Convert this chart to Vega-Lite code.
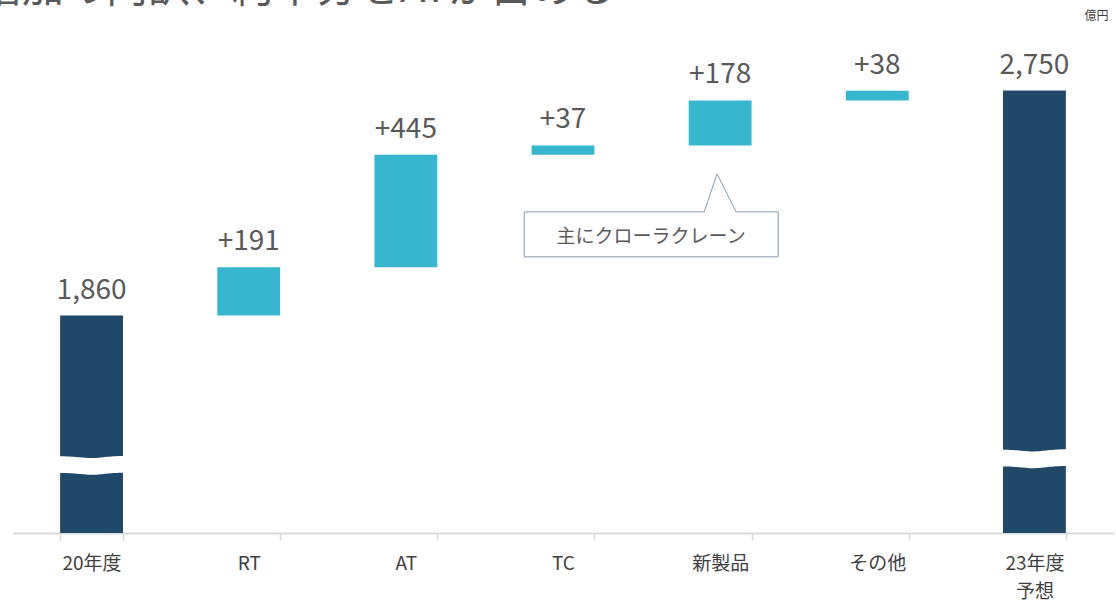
{
  "$schema": "https://vega.github.io/schema/vega-lite/v6.json",
  "width": 1100,
  "height": 533,
  "autosize": {"type": "none"},
  "padding": {"left": 13, "top": 0, "right": 3, "bottom": 68},
  "background": "white",
  "config": {"view": {"stroke": null}, "font": "Noto Sans CJK JP"},
  "title": {
    "text": "増加の内訳、約半分をATが占める",
    "anchor": "start",
    "frame": "group",
    "fontSize": 42,
    "fontWeight": "normal",
    "color": "#595959",
    "font": "Noto Sans CJK JP",
    "baseline": "alphabetic",
    "offset": 0,
    "dx": -33,
    "dy": 44
  },
  "datasets": {
    "bars": [
      {"cat": "20年度", "start": 1000, "end": 1860, "label": "1,860", "kind": "total"},
      {"cat": "RT", "start": 1860, "end": 2051, "label": "+191", "kind": "delta"},
      {"cat": "AT", "start": 2051, "end": 2496, "label": "+445", "kind": "delta"},
      {"cat": "TC", "start": 2496, "end": 2533, "label": "+37", "kind": "delta"},
      {"cat": "新製品", "start": 2533, "end": 2711, "label": "+178", "kind": "delta"},
      {"cat": "その他", "start": 2711, "end": 2749, "label": "+38", "kind": "delta"},
      {"cat": "23年度 予想", "start": 1000, "end": 2750, "label": "2,750", "kind": "total"}
    ],
    "breaks": [
      {"cat": "20年度", "v": 1269},
      {"cat": "23年度 予想", "v": 1295}
    ],
    "callout": [
      {"cat": "新製品", "v": 2183, "note": "主にクローラクレーン"}
    ],
    "unit": [
      {"cat": "23年度 予想", "v": 3045, "t": "億円"}
    ]
  },
  "encoding": {
    "x": {
      "field": "cat",
      "type": "nominal",
      "sort": null,
      "scale": {
        "domain": ["20年度", "RT", "AT", "TC", "新製品", "その他", "23年度 予想"],
        "paddingInner": 0.6,
        "paddingOuter": 0.3
      },
      "axis": {
        "title": null,
        "labelAngle": 0,
        "labelFontSize": 19,
        "labelColor": "#404040",
        "labelFont": "Noto Sans CJK JP",
        "labelExpr": "split(datum.label, ' ')",
        "labelLineHeight": 28,
        "labelPadding": 14,
        "tickBand": "extent",
        "tickSize": 7,
        "tickColor": "#d9d9d9",
        "tickWidth": 1.5,
        "domainColor": "#d9d9d9",
        "domainWidth": 2,
        "grid": false
      }
    }
  },
  "layer": [
    {
      "data": {"name": "bars"},
      "mark": {"type": "bar"},
      "encoding": {
        "y": {"field": "end", "type": "quantitative", "scale": {"domain": [1000, 3108], "nice": false, "zero": false}, "axis": null},
        "y2": {"field": "start"},
        "color": {"field": "kind", "type": "nominal", "scale": {"domain": ["total", "delta"], "range": ["#1f4869", "#38b6cf"]}, "legend": null}
      }
    },
    {
      "data": {"name": "bars"},
      "mark": {"type": "text", "baseline": "alphabetic", "dy": -17, "fontSize": 28, "color": "#595959", "font": "Noto Sans CJK JP"},
      "encoding": {
        "y": {"field": "end", "type": "quantitative"},
        "text": {"field": "label"}
      }
    },
    {
      "data": {"name": "breaks"},
      "mark": {
        "type": "point",
        "filled": true,
        "fill": "white",
        "opacity": 1,
        "strokeWidth": 0,
        "size": 4900,
        "shape": "M-1,-0.25 C-0.4,-0.25 -0.3,-0.2 0,-0.2 C0.3,-0.2 0.4,-0.26 1,-0.26 L1,0.22 C0.4,0.22 0.3,0.28 0,0.28 C-0.3,0.28 -0.4,0.23 -1,0.23 Z"
      },
      "encoding": {
        "y": {"field": "v", "type": "quantitative"}
      }
    },
    {
      "data": {"name": "callout"},
      "mark": {
        "type": "point",
        "filled": false,
        "fill": "white",
        "fillOpacity": 1,
        "stroke": "#8a9bb0",
        "strokeWidth": 1,
        "opacity": 1,
        "size": 65025,
        "shape": "M-1.537,-0.1725 L-0.125,-0.1725 L-0.024,-0.471 L0.125,-0.1725 L0.455,-0.1725 L0.455,0.18 L-1.537,0.18 Z"
      },
      "encoding": {
        "y": {"field": "v", "type": "quantitative"}
      }
    },
    {
      "data": {"name": "callout"},
      "mark": {"type": "text", "dx": -69, "dy": 3, "fontSize": 19, "color": "#595959", "font": "Noto Sans CJK JP", "baseline": "middle"},
      "encoding": {
        "y": {"field": "v", "type": "quantitative"},
        "text": {"field": "note"}
      }
    },
    {
      "data": {"name": "unit"},
      "mark": {"type": "text", "align": "left", "dx": 50, "baseline": "middle", "fontSize": 12, "color": "#404040", "font": "Noto Sans CJK JP"},
      "encoding": {
        "y": {"field": "v", "type": "quantitative"},
        "text": {"field": "t"}
      }
    }
  ]
}
